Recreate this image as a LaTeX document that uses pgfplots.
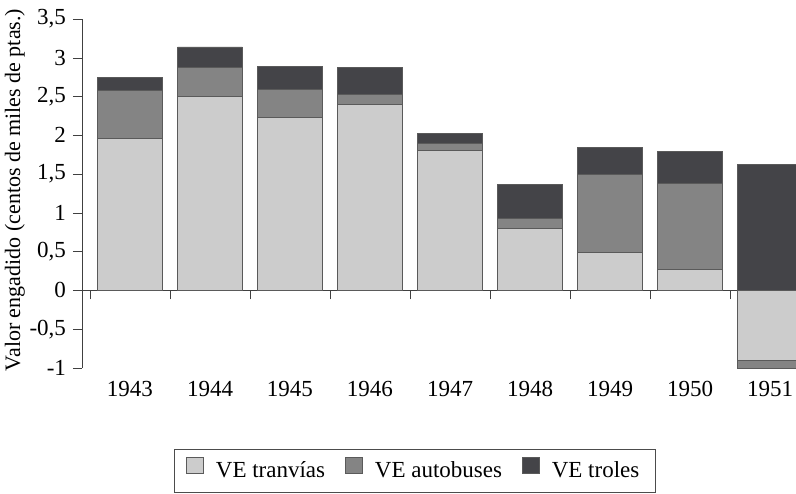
\documentclass[border=0pt]{standalone}
\usepackage{fontspec}
\setmainfont{Liberation Serif}
\usepackage{pgfplots}
\pgfplotsset{compat=1.18}
\definecolor{tramcol}{RGB}{204,204,204}
\definecolor{buscol}{RGB}{132,132,132}
\definecolor{trolcol}{RGB}{68,68,72}
\definecolor{edgecol}{RGB}{90,90,90}
\newcommand{\chartfont}{\fontsize{11.5}{13}\selectfont}
\begin{document}
\begin{tikzpicture}
\useasboundingbox (-41pt,-62.5pt) rectangle (357pt,184pt);
\begin{axis}[
  scale only axis,
  width=357pt, height=174.5pt,
  at={(0pt,0pt)}, anchor=south west,
  axis y line=left, axis x line=middle,
  axis line style={-, draw=black!75},
  hide obscured x ticks=false, hide obscured y ticks=false,
  xmin=-0.6, xmax=8.325,
  ymin=-1, ymax=3.5,
  ytick={-1,-0.5,...,3.5},
  yticklabel style={/pgf/number format/use comma, /pgf/number format/fixed, font=\chartfont},
  /pgf/number format/assume math mode=true,
  xtick={-0.5,0.5,...,7.5},
  xticklabel style={text opacity=0},
  extra x ticks={0,1,2,3,4,5,6,7,8},
  extra x tick labels={1943,1944,1945,1946,1947,1948,1949,1950,1951},
  extra x tick style={major tick length=0pt, xticklabel style={text opacity=1, yshift=-42pt, font=\chartfont}},
  tick align=outside,
  major tick length=4.5pt,
  tick style={draw=black!75},
  every axis y label/.style={at={(axis description cs:-0.094,0.51)}, rotate=90, anchor=center, font=\fontsize{11}{13}\selectfont},
  ylabel={Valor engadido (centos de miles de ptas.)},
  ybar, bar width=0.81, bar shift=0pt,
  legend style={at={(axis description cs:0.466,-0.232)}, anchor=north, legend columns=3,
    draw=black!70, font=\chartfont, inner xsep=6pt, inner ysep=4pt,
    /tikz/every odd column/.append style={column sep=4pt},
    /tikz/every even column/.append style={column sep=8pt}},
  legend image code/.code={\draw[#1] (0pt,-1.5pt) rectangle (8.5pt,6.5pt);},
]
% totals (troles on top)
\addplot[forget plot, fill=trolcol, draw=edgecol, line width=0.4pt] coordinates {
 (0,2.75) (1,3.14) (2,2.89) (3,2.87) (4,2.03) (5,1.37) (6,1.84) (7,1.79) (8,1.63)};
% tranvias + autobuses
\addplot[forget plot, fill=buscol, draw=edgecol, line width=0.4pt] coordinates {
 (0,2.58) (1,2.88) (2,2.59) (3,2.53) (4,1.89) (5,0.93) (6,1.49) (7,1.38) (8,-1.00)};
% tranvias
\addplot[forget plot, fill=tramcol, draw=edgecol, line width=0.4pt] coordinates {
 (0,1.96) (1,2.50) (2,2.23) (3,2.40) (4,1.81) (5,0.80) (6,0.49) (7,0.27) (8,-0.90)};
\addlegendimage{fill=tramcol, draw=edgecol}
\addlegendentry{VE tranvías}
\addlegendimage{fill=buscol, draw=edgecol}
\addlegendentry{VE autobuses}
\addlegendimage{fill=trolcol, draw=edgecol}
\addlegendentry{VE troles}
\end{axis}
\end{tikzpicture}
\end{document}
